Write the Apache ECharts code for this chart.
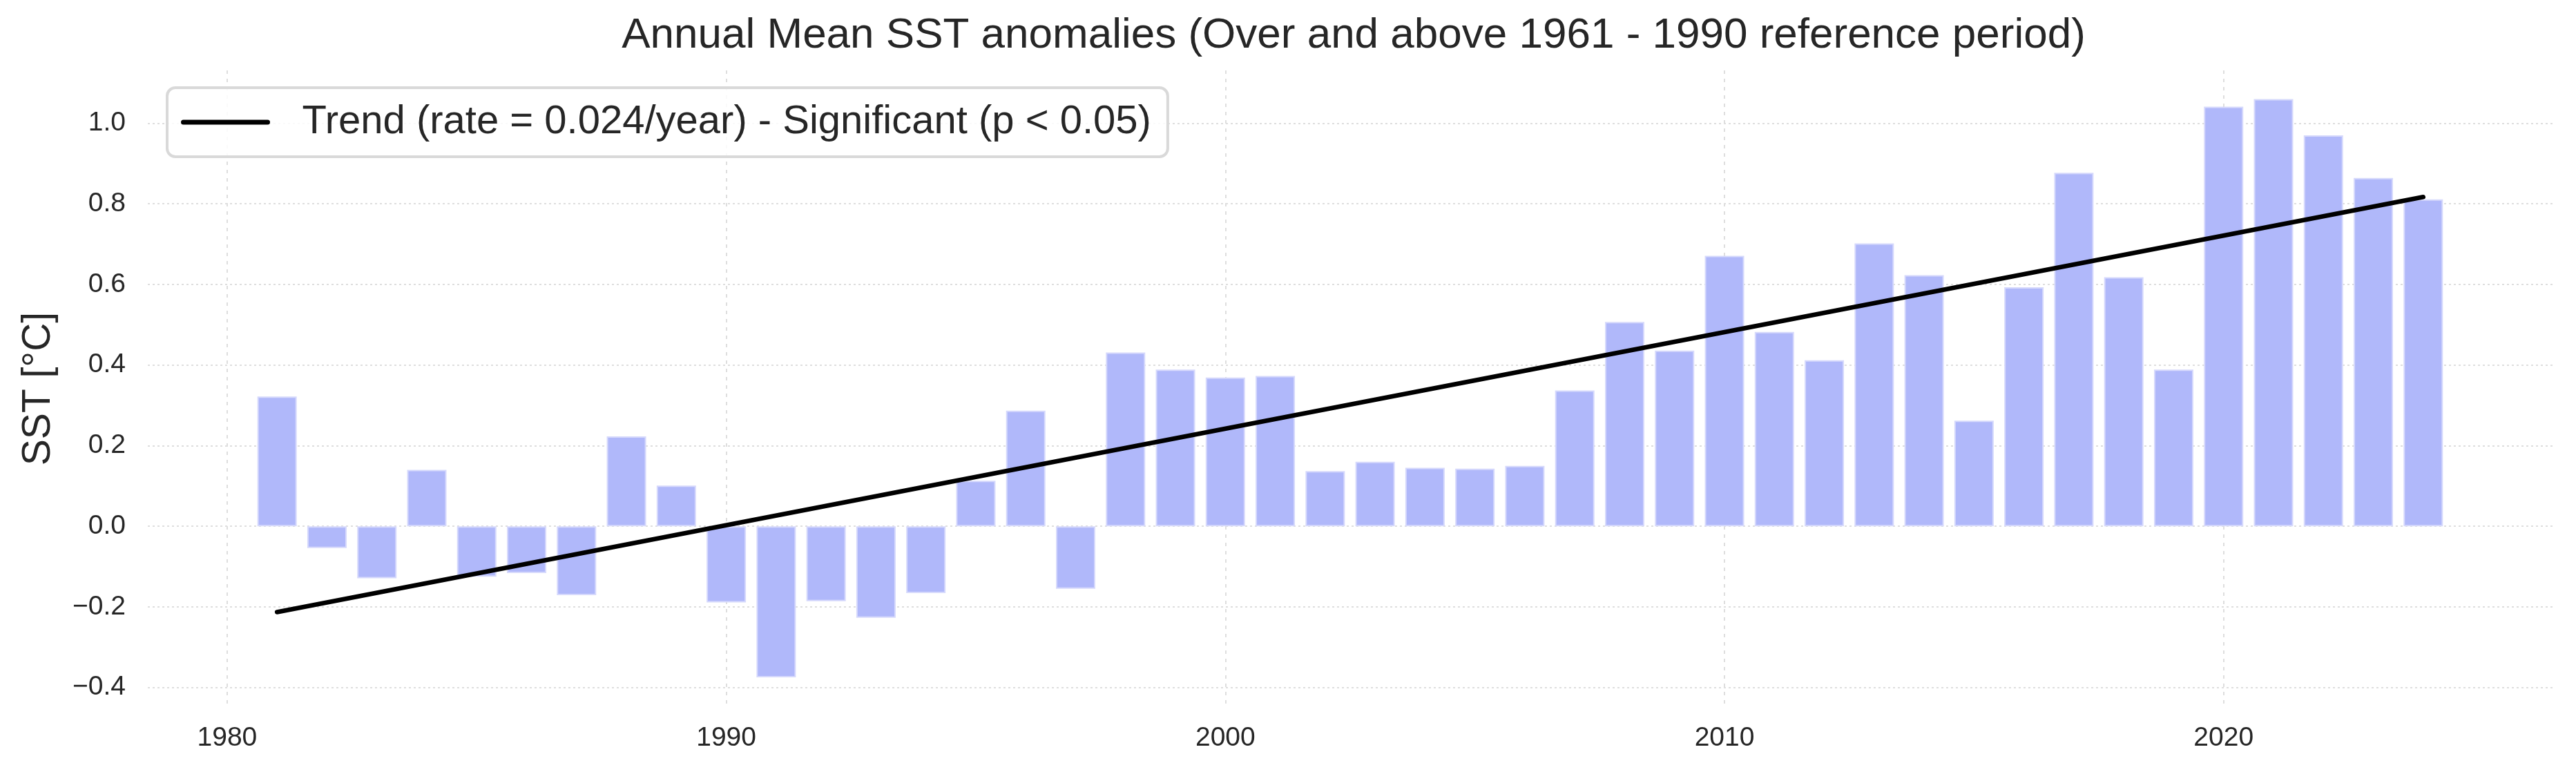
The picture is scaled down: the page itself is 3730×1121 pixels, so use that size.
<!DOCTYPE html>
<html><head><meta charset="utf-8">
<script src="https://cdn.jsdelivr.net/npm/echarts@6/dist/echarts.min.js"></script>
<style>html,body{margin:0;padding:0;background:#fff}#c{width:3730px;height:1121px}</style>
</head><body><div id="c"></div>
<script>
const years = [1981,1982,1983,1984,1985,1986,1987,1988,1989,1990,1991,1992,1993,1994,1995,1996,1997,1998,1999,2000,2001,2002,2003,2004,2005,2006,2007,2008,2009,2010,2011,2012,2013,2014,2015,2016,2017,2018,2019,2020,2021,2022,2023,2024];
const anomalies = [0.322,-0.054,-0.129,0.140,-0.125,-0.116,-0.171,0.223,0.101,-0.189,-0.375,-0.186,-0.227,-0.166,0.113,0.287,-0.155,0.431,0.389,0.369,0.373,0.137,0.160,0.145,0.143,0.150,0.337,0.507,0.436,0.671,0.482,0.412,0.702,0.623,0.262,0.593,0.877,0.618,0.389,1.041,1.060,0.970,0.864,0.811];
const trendYears = [1981, 2024];
const trendValues = [-0.213, 0.817];
const xTicks = [1980, 1990, 2000, 2010, 2020];
const yTicks = [-0.4, -0.2, 0.0, 0.2, 0.4, 0.6, 0.8, 1.0];
const titleText = 'Annual Mean SST anomalies (Over and above 1961 - 1990 reference period)';
const legendLabel = 'Trend (rate = 0.024/year) - Significant (p < 0.05)';
const yAxisName = 'SST [°C]';

const FONT = "'Liberation Sans', Arial, sans-serif";
const TXT = '#262626';
const barData = years.map((y, i) => [y, anomalies[i]]);
const trendData = trendYears.map((y, i) => [y, trendValues[i]]);
const fmtY = v => v.toFixed(1).replace('-', '\u2212');

const chart = echarts.init(document.getElementById('c'), null, {renderer: 'canvas'});
chart.setOption({
  animation: false,
  backgroundColor: '#ffffff',
  textStyle: {fontFamily: FONT},
  title: {
    text: titleText, left: 1955, top: 16, textAlign: 'center',
    textStyle: {fontFamily: FONT, fontSize: 62, fontWeight: 'normal', color: TXT}
  },
  grid: {left: 214, right: 34, top: 102, bottom: 97},
  legend: {
    data: [legendLabel], left: 242, top: 127,
    itemWidth: 122, itemHeight: 10, itemGap: 0,
    padding: [19, 24, 19, 20],
    backgroundColor: 'rgba(255,255,255,0.85)', borderColor: '#d9d9d9', borderWidth: 4, borderRadius: 12,
    itemStyle: {opacity: 0},
    lineStyle: {color: '#000000', width: 7, cap: 'round', opacity: 1},
    textStyle: {fontFamily: FONT, fontSize: 58, color: TXT, lineHeight: 62, padding: [0, 0, 0, 45]}
  },
  xAxis: {
    type: 'value', min: 1978.41, max: 2026.59,
    axisLine: {show: false}, axisTick: {show: false, customValues: xTicks},
    axisLabel: {customValues: xTicks, fontFamily: FONT, fontSize: 39, color: TXT, margin: 26, formatter: v => String(v)},
    splitLine: {show: true, lineStyle: {color: '#dedede', width: 2, type: [5, 7]}}
  },
  yAxis: {
    type: 'value', min: -0.4485, max: 1.131,
    name: yAxisName, nameLocation: 'middle', nameGap: 129,
    nameTextStyle: {fontFamily: FONT, fontSize: 57, color: TXT},
    axisLine: {show: false}, axisTick: {show: false, customValues: yTicks},
    axisLabel: {customValues: yTicks, fontFamily: FONT, fontSize: 39, color: TXT, margin: 32, formatter: fmtY},
    splitLine: {show: true, lineStyle: {color: '#dedede', width: 2, type: [3, 4]}}
  },
  series: [
    {
      type: 'bar', name: 'SST', data: barData, barWidth: 57, z: 2,
      itemStyle: {color: '#b0b8fa', borderColor: '#d6d9fc', borderWidth: 2}
    },
    {
      type: 'line', name: legendLabel, data: trendData, symbol: 'none', z: 3,
      itemStyle: {color: '#000000'},
      lineStyle: {color: '#000000', width: 6.5, cap: 'round'}
    }
  ]
});
</script></body></html>
